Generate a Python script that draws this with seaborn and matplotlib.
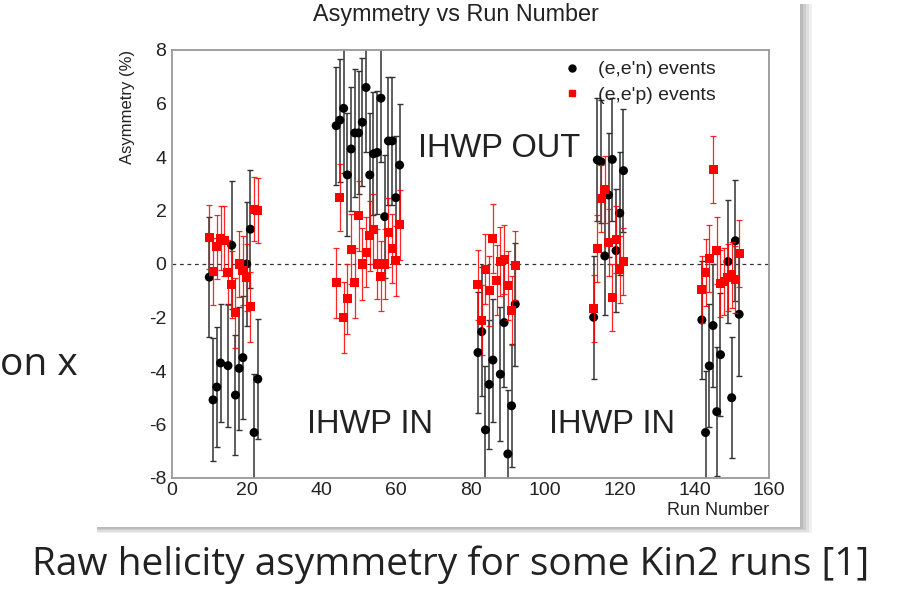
import pandas as pd
import seaborn as sns
import matplotlib.pyplot as plt
from matplotlib.lines import Line2D
from matplotlib.patches import Rectangle
from matplotlib.ticker import MultipleLocator

# (e,e'n) events : run number, asymmetry (%), error
run_n = [10, 11, 12, 13, 15, 16, 17, 18, 19, 20, 21, 22, 23,
         44, 45, 46, 47, 48, 49, 50, 51, 52, 53, 54, 55, 56, 57, 58, 59, 60, 61,
         82, 83, 84, 85, 86, 88, 89, 90, 91, 92,
         113, 114, 115, 116, 117, 118, 119, 120, 121,
         142, 143, 144, 145, 146, 147, 149, 150, 151, 152]
asym_n = [-0.49, -5.08, -4.6, -3.7, -3.8, 0.7, -4.9, -3.9, -3.5, 0.0, 1.3, -6.3, -4.3,
          5.17, 5.38, 5.82, 3.33, 4.3, 4.9, 4.9, 5.3, 6.6, 3.33, 4.12, 4.17, 6.2, 1.77, 4.6, 4.6, 2.48, 3.7,
          -3.31, -2.53, -6.2, -4.5, -3.59, -4.12, -2.19, -7.1, -5.3, -1.5,
          -1.99, 3.89, 3.82, 0.3, 2.58, 3.91, 0.5, 1.9, 3.49,
          -2.09, -6.3, -3.81, -2.3, -5.52, -3.39, 0.09, -5.0, 0.87, -1.88]
err_n = [2.25, 2.3, 2.25, 2.2, 2.3, 2.4, 2.25, 2.3, 2.3, 2.3, 2.2, 2.2, 2.25,
         2.2, 2.3, 2.4, 2.3, 2.3, 2.4, 2.3, 2.4, 2.4, 2.3, 2.3, 2.3, 2.4, 2.3, 2.4, 2.4, 2.3, 2.3,
         2.25, 2.4, 2.4, 2.4, 2.3, 2.5, 2.4, 2.4, 2.3, 2.3,
         2.3, 2.3, 2.3, 2.2, 2.3, 2.3, 2.3, 2.3, 2.3,
         2.2, 2.3, 2.3, 2.3, 2.4, 2.3, 2.3, 2.27, 2.27, 2.3]

# (e,e'p) events
run_p = [10, 11, 12, 13, 14, 15, 16, 17, 18, 19, 20, 21, 22, 23,
         44, 45, 46, 47, 48, 49, 50, 51, 52, 53, 54, 55, 56, 57, 58, 59, 60, 61,
         82, 83, 84, 85, 86, 87, 88, 89, 90, 91, 92,
         113, 114, 115, 116, 117, 118, 119, 120, 121,
         142, 143, 144, 145, 146, 147, 148, 149, 150, 151, 152]
asym_p = [1.0, -0.27, 0.64, 0.96, 0.87, -0.32, -0.75, -1.83, 0.0, -0.24, -0.5, -1.6, 2.05, 2.0,
          -0.7, 2.5, -2.0, -1.3, 0.56, -0.7, 1.8, 0.0, 0.44, 1.05, 1.3, 0.0, -0.45, 0.0, 1.18, 0.58, 0.12, 1.46,
          -0.78, -2.1, -0.19, -1.0, 0.96, -0.6, 0.1, 0.17, -0.81, -1.74, -0.06,
          -1.66, 0.59, 2.45, 2.77, 0.81, -1.24, 0.93, -0.22, 0.09,
          -0.95, -0.32, 0.21, 3.54, 0.52, -0.72, -0.65, -0.51, -0.41, -0.57, 0.4]
err_p = [1.2, 1.25, 1.2, 1.2, 1.3, 1.2, 1.25, 1.3, 1.25, 1.3, 1.25, 1.3, 1.2, 1.2,
         1.3, 1.25, 1.33, 1.3, 1.3, 1.3, 1.3, 1.35, 1.3, 1.3, 1.3, 1.3, 1.3, 1.3, 1.3, 1.3, 1.3, 1.3,
         1.3, 1.3, 1.3, 1.3, 1.28, 1.3, 1.3, 1.3, 1.3, 1.3, 1.3,
         1.25, 1.25, 1.25, 1.25, 1.25, 1.25, 1.25, 1.25, 1.25,
         1.25, 1.25, 1.25, 1.25, 1.25, 1.25, 1.25, 1.25, 1.25, 1.25, 1.25]

legend_labels = ["(e,e'n) events", "(e,e'p) events"]

df_n = pd.DataFrame({'run': run_n, 'asym': asym_n, 'err': err_n})
df_p = pd.DataFrame({'run': run_p, 'asym': asym_p, 'err': err_p})

sns.set_style('white')
plt.rcParams['font.family'] = ['Liberation Sans', 'DejaVu Sans']
plt.rcParams['axes.unicode_minus'] = False

W, H = 899, 593
fig = plt.figure(figsize=(W / 100, H / 100), dpi=100)

# canvas drop shadow (right and bottom)
for w, a in [(12, 0.06), (9, 0.07), (6, 0.08), (3, 0.09)]:
    fig.patches.append(Rectangle((800 / W, 1 - (527 + w * 0.5) / H), w / W, (527 + w * 0.5 - 4) / H,
                                 transform=fig.transFigure, color='black', alpha=a, lw=0, zorder=0))
    fig.patches.append(Rectangle((97 / W, 1 - (527 + w * 0.5) / H), 703 / W, (w * 0.5) / H,
                                 transform=fig.transFigure, color='black', alpha=a, lw=0, zorder=0))

ax = fig.add_axes([172 / W, 1 - 478 / H, (769 - 172) / W, (478 - 50) / H])

ax.axhline(0, color='#333333', lw=0.9, ls=(0, (3, 3)), zorder=1)

ax.errorbar(df_n['run'], df_n['asym'], yerr=df_n['err'], fmt='none', ecolor='#333333',
            elinewidth=1.1, capsize=2.5, capthick=1.0, zorder=2)
sns.scatterplot(data=df_n, x='run', y='asym', marker='o', color='black', s=42,
                edgecolor='none', ax=ax, zorder=3)
ax.errorbar(df_p['run'], df_p['asym'], yerr=df_p['err'], fmt='none', ecolor='red',
            elinewidth=0.9, capsize=2.5, capthick=0.9, alpha=0.85, zorder=4)
sns.scatterplot(data=df_p, x='run', y='asym', marker='s', color='red', s=42,
                edgecolor='none', ax=ax, zorder=5)

ax.set_xlim(0, 160)
ax.set_ylim(-8, 8)
ax.set_xticks(range(0, 161, 20))
ax.set_yticks(range(-8, 9, 2))
ax.xaxis.set_minor_locator(MultipleLocator(5))
ax.yaxis.set_minor_locator(MultipleLocator(0.5))
ax.tick_params(which='both', direction='in', top=False, right=False,
               color='#777777', width=1.2, labelsize=14, labelcolor='#222222')
ax.tick_params(axis='x', which='major', length=9, pad=3)
ax.tick_params(axis='x', which='minor', length=4.5)
ax.tick_params(axis='y', which='major', length=12, pad=4)
ax.tick_params(axis='y', which='minor', length=6.5)
for sp in ax.spines.values():
    sp.set_color('#999999')
    sp.set_linewidth(1.3)

ax.set_xlabel('Run Number', loc='right', fontsize=13, color='#222222')
ax.xaxis.set_label_coords(1.0, -0.055)
ax.set_ylabel('Asymmetry (%)', loc='top', fontsize=12, color='#222222')
ax.yaxis.set_label_coords(-0.062, 1.0)

ax.text(87.7, 4.0, 'IHWP OUT', ha='center', va='baseline', fontsize=23.5, color='#222222')
ax.text(53.1, -6.32, 'IHWP IN', ha='center', va='baseline', fontsize=23.5, color='#222222')
ax.text(117.8, -6.32, 'IHWP IN', ha='center', va='baseline', fontsize=23.5, color='#222222')

handles = [Line2D([], [], marker='o', ls='none', color='black', markersize=5),
           Line2D([], [], marker='s', ls='none', color='red', markersize=5)]
ax.legend(handles, legend_labels, loc='upper left', bbox_to_anchor=(0.653, 0.975),
          frameon=False, fontsize=14, handlelength=1.0, handletextpad=0.85,
          labelspacing=0.42, borderpad=0, borderaxespad=0, labelcolor='#222222')

fig.text(456 / W, 1 - 15 / H, 'Asymmetry vs Run Number', ha='center', va='center',
         fontsize=16.8, color='#222222')

fig.text(451 / W, 1 - 565 / H, 'Raw helicity asymmetry for some Kin2 runs [1]',
         ha='center', va='center', fontsize=28, color='#222222',
         family=['Open Sans', 'DejaVu Sans'])
fig.text(0.0, 1 - 365 / H, 'on x', ha='left', va='center', fontsize=28,
         color='#222222', family=['Open Sans', 'DejaVu Sans'])

fig.savefig('out.png', dpi=100)
